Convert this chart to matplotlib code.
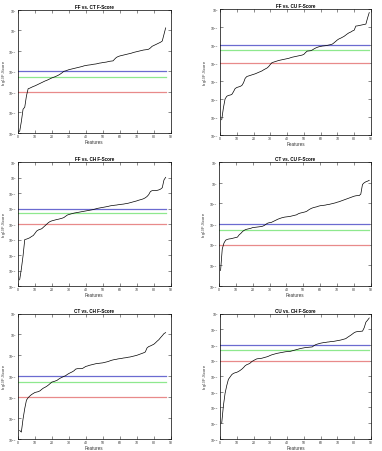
import numpy as np
import matplotlib
matplotlib.use("Agg")
import matplotlib.pyplot as plt

plt.rcParams['font.family'] = ['Liberation Sans', 'DejaVu Sans']
plt.rcParams['mathtext.fontset'] = 'custom'
plt.rcParams['mathtext.rm'] = 'Liberation Sans'

titles = ["FF vs. CT F-Score", "FF vs. CU F-Score",
          "FF vs. CH F-Score", "CT vs. CU F-Score",
          "CT vs. CH F-Score", "CU vs. CH F-Score"]

# p-value thresholds
thresholds = [0.01, 0.005, 0.001]
threshold_colors = ['#6b6bd0', '#8ee88e', '#e88a8a']

# log10 of sorted F-score p-values
ff_ct = [-4.94, -4.45, -3.85, -3.75, -3.2, -2.85, -2.82, -2.78, -2.74, -2.71,
         -2.67, -2.63, -2.59, -2.55, -2.51, -2.47, -2.44, -2.40, -2.36, -2.32,
         -2.29, -2.26, -2.22, -2.18, -2.13, -2.07, -2.0, -1.98, -1.95, -1.92,
         -1.90, -1.88, -1.86, -1.84, -1.82, -1.80, -1.78, -1.76, -1.73, -1.72,
         -1.70, -1.69, -1.68, -1.66, -1.65, -1.64, -1.62, -1.60, -1.59, -1.57,
         -1.56, -1.55, -1.53, -1.51, -1.50, -1.49, -1.40, -1.32, -1.28, -1.25,
         -1.23, -1.21, -1.19, -1.17, -1.15, -1.13, -1.11, -1.08, -1.06, -1.04,
         -1.02, -1.00, -0.98, -0.96, -0.95, -0.94, -0.92, -0.86, -0.78, -0.74,
         -0.70, -0.66, -0.62, -0.58, -0.52, -0.2, 0.12]

ff_cu = [-6.15, -5.5, -5.0, -4.85, -4.8, -4.78, -4.75, -4.6, -4.42, -4.36,
         -4.33, -4.3, -4.25, -4.1, -3.85, -3.75, -3.72, -3.69, -3.66, -3.63,
         -3.6, -3.56, -3.52, -3.48, -3.44, -3.38, -3.33, -3.28, -3.2, -3.08,
         -2.98, -2.95, -2.92, -2.89, -2.86, -2.84, -2.82, -2.80, -2.78, -2.76,
         -2.74, -2.71, -2.68, -2.66, -2.64, -2.62, -2.60, -2.58, -2.56, -2.52,
         -2.42, -2.34, -2.33, -2.32, -2.28, -2.22, -2.17, -2.13, -2.10, -2.08,
         -2.06, -2.05, -2.04, -2.02, -2.00, -1.98, -1.95, -1.88, -1.80, -1.72,
         -1.66, -1.62, -1.57, -1.52, -1.45, -1.38, -1.32, -1.28, -1.22, -1.18,
         -0.95, -0.94, -0.92, -0.90, -0.88, -0.86, -0.84, -0.5, -0.2]

ff_ch = [-6.6, -5.9, -5.05, -4.0, -3.97, -3.93, -3.88, -3.80, -3.74, -3.60,
         -3.45, -3.38, -3.34, -3.30, -3.20, -3.10, -3.00, -2.90, -2.83, -2.79,
         -2.76, -2.73, -2.70, -2.68, -2.65, -2.62, -2.58, -2.50, -2.42, -2.38,
         -2.35, -2.32, -2.29, -2.27, -2.25, -2.23, -2.21, -2.19, -2.17, -2.15,
         -2.13, -2.11, -2.09, -2.07, -2.04, -2.01, -1.98, -1.96, -1.94, -1.92,
         -1.90, -1.88, -1.86, -1.83, -1.81, -1.80, -1.78, -1.77, -1.75, -1.74,
         -1.72, -1.71, -1.69, -1.67, -1.65, -1.62, -1.59, -1.56, -1.53, -1.50,
         -1.46, -1.43, -1.40, -1.36, -1.30, -1.22, -1.10, -0.90, -0.84, -0.84,
         -0.84, -0.82, -0.79, -0.74, -0.65, -0.15, 0.02]

ct_cu = [-4.25, -3.2, -2.92, -2.78, -2.74, -2.72, -2.71, -2.69, -2.67, -2.65,
         -2.63, -2.52, -2.45, -2.36, -2.30, -2.26, -2.24, -2.22, -2.20, -2.17,
         -2.16, -2.15, -2.14, -2.13, -2.12, -2.10, -2.06, -2.00, -1.95, -1.93,
         -1.92, -1.88, -1.84, -1.80, -1.76, -1.73, -1.70, -1.68, -1.66, -1.65,
         -1.64, -1.63, -1.61, -1.59, -1.57, -1.55, -1.50, -1.47, -1.45, -1.43,
         -1.41, -1.38, -1.32, -1.27, -1.23, -1.20, -1.18, -1.16, -1.13, -1.11,
         -1.10, -1.09, -1.08, -1.06, -1.05, -1.03, -1.01, -0.99, -0.97, -0.94,
         -0.92, -0.89, -0.86, -0.83, -0.80, -0.77, -0.74, -0.71, -0.68, -0.65,
         -0.63, -0.62, -0.62, -0.55, -0.08, 0.0, 0.05, 0.08, 0.12]

ct_ch = [-4.6, -4.68, -4.05, -3.55, -3.15, -3.03, -2.95, -2.88, -2.83, -2.78,
         -2.76, -2.74, -2.70, -2.63, -2.57, -2.53, -2.48, -2.42, -2.35, -2.28,
         -2.26, -2.23, -2.20, -2.14, -2.09, -2.05, -2.01, -1.98, -1.92, -1.87,
         -1.83, -1.79, -1.74, -1.66, -1.64, -1.64, -1.64, -1.63, -1.58, -1.53,
         -1.51, -1.48, -1.46, -1.44, -1.42, -1.40, -1.39, -1.38, -1.37, -1.36,
         -1.34, -1.32, -1.30, -1.27, -1.24, -1.22, -1.20, -1.19, -1.17, -1.16,
         -1.15, -1.13, -1.12, -1.11, -1.09, -1.08, -1.06, -1.04, -1.02, -1.00,
         -0.97, -0.94, -0.91, -0.88, -0.84, -0.65, -0.58, -0.55, -0.51, -0.47,
         -0.40, -0.32, -0.25, -0.15, -0.06, 0.04, 0.09]

cu_ch = [-7.0, -5.9, -5.1, -4.6, -4.2, -4.05, -3.9, -3.82, -3.78, -3.75,
         -3.70, -3.63, -3.55, -3.45, -3.33, -3.26, -3.22, -3.16, -3.06, -3.00,
         -2.94, -2.89, -2.88, -2.87, -2.85, -2.82, -2.79, -2.76, -2.72, -2.67,
         -2.63, -2.60, -2.57, -2.54, -2.52, -2.50, -2.48, -2.46, -2.44, -2.43,
         -2.42, -2.41, -2.38, -2.35, -2.32, -2.29, -2.26, -2.23, -2.21, -2.19,
         -2.17, -2.16, -2.15, -2.14, -2.13, -2.05, -1.99, -1.95, -1.92, -1.89,
         -1.87, -1.85, -1.84, -1.82, -1.81, -1.79, -1.78, -1.77, -1.75, -1.73,
         -1.71, -1.69, -1.66, -1.63, -1.60, -1.52, -1.45, -1.38, -1.30, -1.22,
         -1.17, -1.15, -1.14, -1.13, -1.12, -0.9, -0.55, -0.42, -0.28]

series = [ff_ct, ff_cu, ff_ch, ct_cu, ct_ch, cu_ch]
# y limits as decades (bottom, top)
ylims = [(-5, 1), (-7, 0), (-7, 1), (-5, 1), (-5, 1), (-8, 0)]

# axes boxes in figure fraction [left, bottom, width, height]
boxes = [[0.047, 0.704, 0.40, 0.272], [0.576, 0.699, 0.395, 0.279],
         [0.047, 0.365, 0.40, 0.274], [0.573, 0.365, 0.398, 0.274],
         [0.047, 0.027, 0.40, 0.277], [0.576, 0.027, 0.395, 0.277]]

fig = plt.figure(figsize=(3.82, 4.52), dpi=100)
for i in range(6):
    ax = fig.add_axes(boxes[i])
    vals = 10.0 ** np.array(series[i])
    n = len(vals)
    feats = np.arange(1, n + 1)
    for t, c in zip(thresholds, threshold_colors):
        ax.plot([0, n], [t, t], color=c, lw=0.9)
    ax.plot(feats, vals, color='k', lw=0.5)
    ax.set_yscale('log')
    lo, hi = ylims[i]
    ax.set_ylim(10.0 ** lo, 10.0 ** hi)
    ax.set_xlim(0, 90)
    ax.set_xticks(np.arange(0, 91, 10))
    ax.set_yticks([10.0 ** k for k in range(lo, hi + 1)])
    ax.yaxis.set_minor_locator(matplotlib.ticker.NullLocator())
    ax.tick_params(direction='in', top=True, right=True, length=2,
                   width=0.4, labelsize=2.5, pad=0.8, colors='#333333')
    for s in ax.spines.values():
        s.set_linewidth(0.5)
    ax.set_title(titles[i], fontsize=3.3, fontweight='bold', pad=1.5)
    ax.set_xlabel('Features', fontsize=3.3, labelpad=0.5, color='#333333')
    ax.set_ylabel(r'log$_{10}$ F-Score', fontsize=3.0, color='#333333')
    if i % 2 == 0:
        ax.yaxis.set_label_coords(-0.065, 0.5)
    else:
        ax.yaxis.set_label_coords(-0.07, 0.5)

fig.savefig('out.png', dpi=100)
